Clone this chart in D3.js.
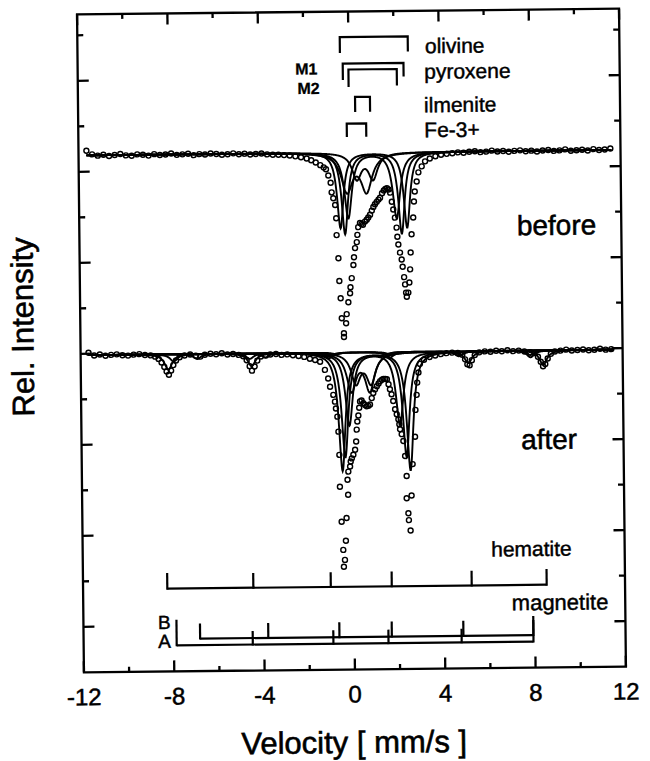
<!DOCTYPE html>
<html><head><meta charset="utf-8">
<script src="https://cdn.jsdelivr.net/npm/d3@7"></script>
<style>body{margin:0;background:#fff}svg{display:block}</style>
</head><body>
<script>
// ---------------- DATA ----------------
const xMajorTicks = [-12,-8,-4,0,4,8,12];
const xMinorTicks = [-10,-6,-2,2,6,10];
const yMajorTicks = [10,30,50,70,90,110,130];
const yMinorTicks = [20,40,60,80,100,120,140];

// spectrum offsets (rel. intensity units) and measured points [velocity mm/s, absorption depth]
const beforeBaseline = 113.6;
const afterBaseline = 69.7;

const beforePoints = [
[-11.65,-1.0],[-11.4,-0.2],[-11.15,0.1],[-10.9,-0.1],[-10.65,0.2],[-10.4,0.0],[-10.15,-0.2],[-9.9,0.1],[-9.65,0.2],[-9.4,-0.1],[-9.15,0.0],[-8.9,0.2],[-8.65,-0.1],[-8.4,0.1],[-8.15,0.0],[-7.9,-0.2],[-7.65,0.1],[-7.4,0.0],[-7.15,-0.1],[-6.9,0.2],[-6.65,0.0],[-6.4,0.1],[-6.15,-0.1],[-5.9,0.0],[-5.65,0.2],[-5.4,0.1],[-5.15,-0.1],[-4.9,0.1],[-4.65,0.0],[-4.4,0.2],[-4.15,0.1],[-3.9,0.0],[-3.65,0.2],[-3.4,0.3],[-3.15,0.3],[-2.9,0.4],[-2.65,0.5],[-2.4,0.7],[-2.15,0.9],[-1.9,1.2],[-1.7,1.6],[-1.5,2.1],[-1.3,2.7],[-1.15,3.2],
[-1.05,3.6],[-0.95,5.0],[-0.85,6.6],[-0.81,8.7],[-0.74,10.0],[-0.66,11.5],[-0.62,14.4],[-0.61,18.1],[-0.54,23.2],[-0.51,28.2],[-0.46,32.0],[-0.42,36.4],[-0.33,39.7],[-0.33,40.5],[-0.23,37.5],[-0.20,35.5],[-0.12,32.9],[-0.04,30.9],[-0.02,29.6],[0.04,27.6],[0.12,24.7],[0.15,23.0],[0.20,21.0],[0.28,19.7],[0.31,18.1],[0.35,16.4],[0.43,15.5],[0.50,15.7],[0.56,15.9],[0.65,15.2],[0.73,14.8],[0.80,14.3],[0.88,13.7],[0.96,12.8],[1.03,12.0],[1.10,11.4],[1.18,10.9],[1.26,10.4],[1.33,10.0],[1.42,9.0],[1.50,8.4],[1.57,8.1],[1.64,7.9],[1.71,8.2],[1.78,8.9],[1.85,10.9],[1.91,12.6],[1.98,14.4],[2.05,16.6],[2.08,18.6],[2.12,20.3],[2.19,22.1],[2.26,23.6],[2.30,25.2],[2.36,27.5],[2.40,29.1],[2.44,30.9],[2.47,31.8],[2.54,30.9],[2.59,28.7],[2.63,25.8],[2.66,22.1],[2.71,18.1],[2.79,14.4],[2.83,10.9],[2.87,8.7],[2.96,6.5],[3.04,4.5],[3.19,3.2],[3.34,2.1],[3.55,1.5],
[3.8,1.0],[4.05,0.7],[4.3,0.5],[4.55,0.4],[4.8,0.2],[5.05,0.3],[5.3,0.1],[5.55,0.0],[5.8,0.2],[6.05,0.1],[6.3,-0.1],[6.55,0.1],[6.8,0.0],[7.05,0.2],[7.3,0.0],[7.55,-0.1],[7.8,0.1],[8.05,0.0],[8.3,0.2],[8.55,0.0],[8.8,-0.1],[9.05,0.1],[9.3,0.0],[9.55,-0.2],[9.8,0.1],[10.05,0.0],[10.3,-0.1],[10.55,0.1],[10.8,-0.2],[11.05,0.0],[11.3,-0.1],[11.55,-0.3]
];

const afterPoints = [
[-11.65,-0.5],[-11.4,0.1],[-11.15,-0.1],[-10.9,0.2],[-10.65,0.0],[-10.4,-0.1],[-10.15,0.1],[-9.9,0.2],[-9.65,0.0],[-9.4,-0.1],[-9.15,0.1],[-8.9,0.2],[-8.7,0.5],[-8.55,1.0],[-8.42,1.8],[-8.3,2.8],[-8.2,3.8],[-8.1,4.5],[-8.0,3.6],[-7.9,2.4],[-7.78,1.4],[-7.62,0.7],[-7.4,0.3],[-7.15,0.1],[-6.9,0.4],[-6.7,0.6],[-6.5,0.2],[-6.25,0.0],[-6.0,0.1],[-5.75,-0.1],[-5.5,0.2],[-5.25,0.1],[-5.0,0.3],[-4.8,0.6],[-4.65,1.5],[-4.52,2.8],[-4.42,3.8],[-4.3,2.9],[-4.18,1.6],[-4.02,0.7],[-3.8,0.5],[-3.6,0.3],[-3.35,0.2],[-3.1,0.4],[-2.85,0.3],[-2.6,0.5],[-2.35,0.7],[-2.1,0.9],[-1.85,1.3],[-1.62,1.6],
[-1.40,2.0],[-1.19,3.8],[-1.05,5.7],[-0.97,7.5],[-0.83,9.3],[-0.76,10.8],[-0.72,12.3],[-0.66,14.1],[-0.62,17.4],[-0.59,22.5],[-0.58,29.5],[-0.52,37.2],[-0.46,43.4],[-0.44,47.1],[-0.39,45.6],[-0.34,41.4],[-0.30,36.4],[-0.22,31.3],[-0.24,28.0],[-0.20,26.2],[-0.12,25.1],[-0.09,24.0],[-0.04,23.3],[0.03,22.5],[0.11,21.4],[0.16,19.6],[0.19,17.0],[0.22,15.2],[0.27,13.9],[0.31,12.2],[0.35,10.8],[0.42,10.6],[0.50,11.2],[0.57,11.6],[0.64,11.9],[0.72,11.8],[0.79,11.5],[0.87,10.1],[0.94,9.0],[1.02,8.2],[1.10,7.5],[1.18,6.9],[1.25,6.4],[1.33,6.1],[1.40,5.9],[1.48,5.9],[1.55,6.0],[1.62,7.1],[1.68,8.2],[1.75,9.3],[1.82,10.8],[1.90,12.6],[1.97,13.7],[2.04,14.8],[2.08,15.9],[2.11,17.0],[2.18,18.1],[2.25,19.6],[2.32,22.9],[2.38,27.3],[2.37,32.2],[2.44,35.5],[2.46,37.0],[2.53,39.3],[2.59,31.6],[2.65,24.7],[2.77,18.7],[2.80,12.8],[2.86,9.5],[2.89,6.8],[2.95,4.6],[3.02,2.7],[3.2,1.8],[3.45,1.2],
[3.7,0.9],[3.95,0.6],[4.2,0.4],[4.45,0.3],[4.7,0.4],[4.9,0.8],[5.02,1.8],[5.12,2.9],[5.22,3.1],[5.32,2.0],[5.45,0.9],[5.65,0.3],[5.9,0.1],[6.15,0.2],[6.4,0.0],[6.65,0.1],[6.9,-0.1],[7.15,0.1],[7.4,0.0],[7.65,0.2],[7.9,0.4],[8.1,0.6],[8.25,1.4],[8.37,2.5],[8.47,3.5],[8.57,3.0],[8.68,1.8],[8.82,0.8],[9.0,0.3],[9.25,0.1],[9.5,-0.1],[9.75,0.1],[10.0,0.0],[10.25,-0.1],[10.5,0.1],[10.75,0.0],[11.0,-0.2],[11.25,0.0],[11.5,-0.1]
];

// fitted subspectra: line positions (mm/s), line depths, half widths (mm/s)
const beforeCompLines  = [[-0.43,2.52],[-0.23,2.28],[-0.08,2.06],[0.31,1.03],[-0.13,0.74]];
const beforeCompDepths = [[16.6,16.6],[17.9,17.9],[14.4,14.4],[5.6,5.6],[8.2,8.2]];
const beforeCompWidths = [0.17,0.17,0.2,0.25,0.3];

const afterCompLines  = [[-0.45,2.56],[-0.32,2.39],[-0.13,2.11],[0.18,0.85],[-0.02,0.79],
  [-8.12,-4.43,-1.0,1.7,5.16,8.48],[-7.88,-4.51,-0.94,1.5,4.74,7.92],[-6.84,-3.82,-0.67,1.65,4.82,7.92]];
const afterCompDepths = [[26,26],[23,23],[16,16],[6.5,6.5],[8.2,8.2],
  [3.4,2.8,1.2,1.2,2.6,3.2],[1.6,1.2,0.6,0.6,1.1,1.5],[1.1,0.9,0.4,0.4,0.8,1.0]];
const afterCompWidths = [0.18,0.18,0.2,0.25,0.25,0.2,0.2,0.2];

// stick diagrams (line positions, mm/s)
const olivineSticks = [-0.38,2.63];
const pyroxeneM1Sticks = [-0.26,2.43];
const pyroxeneM2Sticks = [-0.01,2.13];
const ilmeniteSticks = [0.27,0.93];
const fe3Sticks = [-0.11,0.75];
const hematiteSticks = [-8.27,-4.46,-1.03,1.67,5.21,8.53];
const magnetiteASticks = [-7.88,-4.51,-0.94,1.50,4.74,7.92];
const magnetiteBSticks = [-6.84,-3.82,-0.67,1.65,4.82,7.92];

// ---------------- CHART ----------------
const W = 650, H = 761;
const FONT = "'Liberation Sans', Arial, Helvetica, sans-serif";
const svg = d3.select("body").append("svg").attr("width", W).attr("height", H)
  .style("font-family", FONT);
svg.append("rect").attr("width", W).attr("height", H).attr("fill", "#fff");
const g = svg.append("g").attr("transform", "rotate(-0.6,351.5,342)");

const x = d3.scaleLinear().domain([-12,12]).range([80.5,622.5]);
const y = d3.scaleLinear().domain([0,144.6]).range([669.5,11.5]);
const [x0, x1] = x.range();
const [yb, yt] = y.range();
const SW = 2.3;

// frame
g.append("rect").attr("x", x0).attr("y", yt).attr("width", x1 - x0).attr("height", yb - yt)
  .attr("fill", "none").attr("stroke", "#000").attr("stroke-width", SW);

function tick(x1_, y1_, x2_, y2_) {
  g.append("line").attr("x1", x1_).attr("y1", y1_).attr("x2", x2_).attr("y2", y2_)
    .attr("stroke", "#000").attr("stroke-width", SW);
}
xMajorTicks.forEach(t => { tick(x(t), yb, x(t), yb - 11); tick(x(t), yt, x(t), yt + 11); });
xMinorTicks.forEach(t => { tick(x(t), yb, x(t), yb - 5); tick(x(t), yt, x(t), yt + 5); });
yMajorTicks.forEach(t => { tick(x0, y(t), x0 + 11, y(t)); tick(x1, y(t), x1 - 11, y(t)); });
yMinorTicks.forEach(t => { tick(x0, y(t), x0 + 6, y(t)); tick(x1, y(t), x1 - 6, y(t)); });

function heavy(sel, w) {
  return sel.attr("fill", "#000").attr("stroke", "#000").attr("stroke-width", w);
}
heavy(g.selectAll(".xl").data(xMajorTicks).join("text")
  .attr("x", d => x(d)).attr("y", 702.5).attr("text-anchor", "middle")
  .attr("font-size", 24).text(d => d), 0.5);

heavy(g.append("text").attr("x", 350).attr("y", 753).attr("text-anchor", "middle")
  .attr("font-size", 31).text("Velocity [ mm/s ]"), 0.6);
heavy(g.append("text").attr("transform", "translate(33.5,323.5) rotate(-90)")
  .attr("text-anchor", "middle").attr("font-size", 31).text("Rel. Intensity"), 0.6);

// subspectra
const velGrid = d3.range(-11.65, 11.6, 0.02);
function lorentz(v, lines, depths, w) {
  return d3.sum(lines, (c, i) => depths[i] * w * w / ((v - c) * (v - c) + w * w));
}
const line = d3.line().x(d => x(d[0])).y(d => y(d[1]));
function drawComponents(base, lines, depths, widths) {
  lines.forEach((ls, k) => {
    const pts = velGrid.map(v => [v, base - lorentz(v, ls, depths[k], widths[k])]);
    g.append("path").attr("d", line(pts)).attr("fill", "none")
      .attr("stroke", "#000").attr("stroke-width", 1.9);
  });
}
drawComponents(beforeBaseline, beforeCompLines, beforeCompDepths, beforeCompWidths);
drawComponents(afterBaseline, afterCompLines, afterCompDepths, afterCompWidths);

// measured points
function drawPoints(base, pts) {
  g.append("g").selectAll("circle").data(pts).join("circle")
    .attr("cx", d => x(d[0])).attr("cy", d => y(base - d[1])).attr("r", 2.5)
    .attr("fill", "none").attr("stroke", "#000").attr("stroke-width", 1.4);
}
drawPoints(beforeBaseline, beforePoints);
drawPoints(afterBaseline, afterPoints);

// top stick diagrams
function bracket(v, yTop, yL, yR) {
  g.append("path").attr("d", `M${x(v[0])},${yL}V${yTop}H${x(v[1])}V${yR}`)
    .attr("fill", "none").attr("stroke", "#000").attr("stroke-width", 2.2);
}
bracket(olivineSticks, 37, 53, 52);
bracket(pyroxeneM1Sticks, 63.5, 80, 77);
bracket(pyroxeneM2Sticks, 69.5, 87, 86);
bracket(ilmeniteSticks, 97, 112, 112);
bracket(fe3Sticks, 123.5, 137, 137);

function label(t, xx, yy, size, weight, sw) {
  heavy(g.append("text").attr("x", xx).attr("y", yy).attr("font-size", size)
    .attr("font-weight", weight || "normal").text(t), sw == null ? 0.45 : sw);
}
label("olivine", 428, 54, 21);
label("pyroxene", 427, 79.5, 21);
label("ilmenite", 426.5, 113, 21);
label("Fe-3+", 426.5, 138, 21);
label("M1", 298, 74, 16, "bold", 0.3);
label("M2", 300, 93.5, 16, "bold", 0.3);
label("before", 518, 237, 28, "normal", 0.55);
label("after", 520, 451, 28, "normal", 0.55);

// bottom stick diagrams
function sticks(v, yLine, yTop, yTopEnds) {
  g.append("line").attr("x1", x(v[0])).attr("x2", x(v[v.length - 1]))
    .attr("y1", yLine).attr("y2", yLine).attr("stroke", "#000").attr("stroke-width", 2.2);
  v.forEach((s, i) => {
    const top = (i === 0 || i === v.length - 1) ? yTopEnds : yTop;
    g.append("line").attr("x1", x(s)).attr("x2", x(s)).attr("y1", yLine + 1).attr("y2", top)
      .attr("stroke", "#000").attr("stroke-width", 2.2);
  });
}
sticks(hematiteSticks, 586.7, 572, 571);
sticks(magnetiteBSticks, 637, 622, 622);
sticks(magnetiteASticks, 643.5, 630, 618);
label("hematite", 489, 558, 21);
label("magnetite", 509, 612, 22);
label("B", 155, 627, 19);
label("A", 155, 646, 19);
</script>
</body></html>
